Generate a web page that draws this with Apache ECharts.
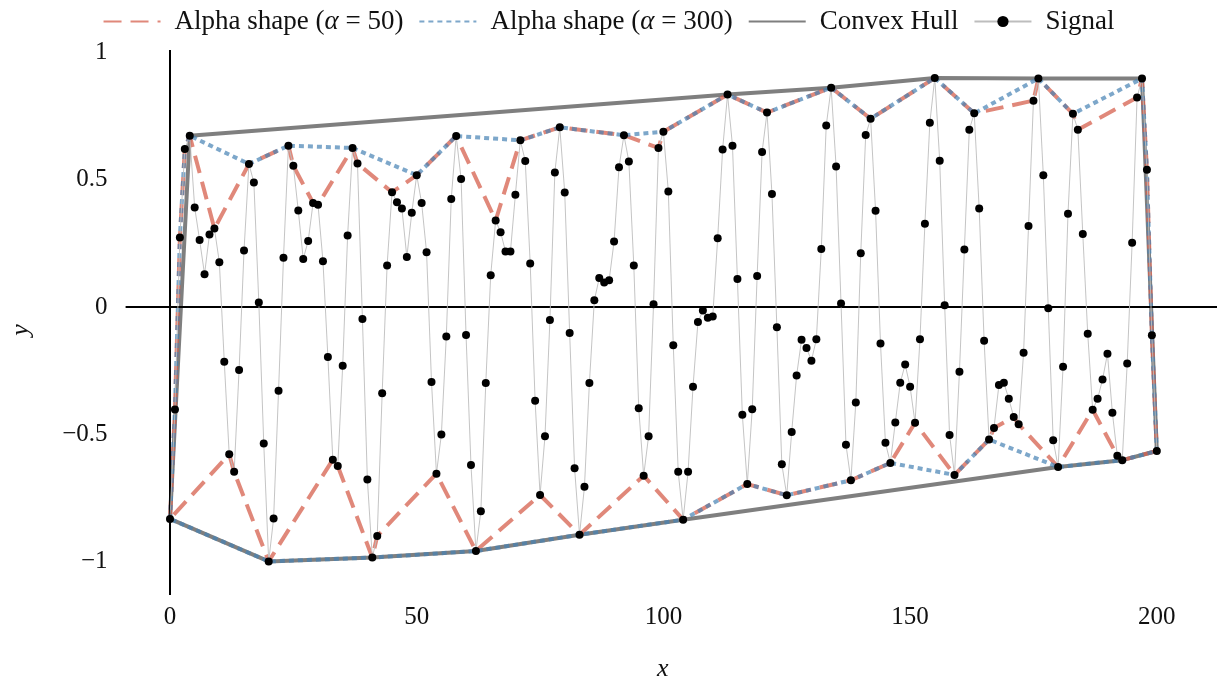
<!DOCTYPE html>
<html>
<head>
<meta charset="utf-8">
<script src="https://cdn.jsdelivr.net/npm/echarts@6/dist/echarts.min.js"></script>
<style>
html,body{margin:0;padding:0;background:#fff;}
#chart{width:1217px;height:682px;}
</style>
</head>
<body>
<div id="chart"></div>
<script>
// Signal values, sampled at x = 0,1,...,200
const signalY = [
-0.833,-0.403,0.273,0.621,0.673,0.391,0.263,0.129,0.285,0.308,
0.176,-0.215,-0.579,-0.648,-0.248,0.222,0.562,0.489,0.018,-0.537,
-1.0,-0.831,-0.329,0.193,0.634,0.555,0.379,0.189,0.259,0.409,
0.402,0.18,-0.197,-0.6,-0.625,-0.231,0.281,0.625,0.564,-0.047,
-0.678,-0.985,-0.9,-0.339,0.163,0.451,0.412,0.387,0.196,0.37,
0.518,0.409,0.215,-0.295,-0.655,-0.501,-0.116,0.424,0.672,0.503,
-0.11,-0.621,-0.959,-0.803,-0.299,0.125,0.34,0.294,0.218,0.218,
0.441,0.655,0.574,0.171,-0.369,-0.739,-0.508,-0.051,0.529,0.706,
0.45,-0.102,-0.634,-0.895,-0.707,-0.299,0.026,0.114,0.096,0.105,
0.257,0.549,0.675,0.572,0.163,-0.398,-0.663,-0.508,0.011,0.625,
0.689,0.454,-0.15,-0.648,-0.836,-0.648,-0.314,-0.059,-0.014,-0.042,
-0.037,0.27,0.619,0.835,0.634,0.11,-0.424,-0.696,-0.402,0.122,
0.609,0.764,0.444,-0.08,-0.618,-0.74,-0.491,-0.269,-0.129,-0.161,
-0.211,-0.127,0.228,0.713,0.862,0.552,0.014,-0.541,-0.681,-0.375,
0.211,0.676,0.74,0.378,-0.144,-0.534,-0.613,-0.454,-0.298,-0.226,
-0.314,-0.455,-0.127,0.327,0.724,0.9,0.575,0.007,-0.503,-0.66,
-0.255,0.226,0.697,0.761,0.387,-0.133,-0.521,-0.476,-0.307,-0.298,
-0.361,-0.432,-0.461,-0.18,0.318,0.811,0.898,0.518,-0.005,-0.524,
-0.629,-0.235,0.366,0.759,0.697,0.287,-0.105,-0.404,-0.361,-0.285,
-0.184,-0.416,-0.585,-0.602,-0.222,0.252,0.823,0.898,0.539,-0.111,
-0.566
];

// Boundary paths, as indices into the signal samples
const hullIdx = [0,4,113,134,155,176,197,200,193,180,104,83,62,41,20,0];
const alpha300Idx = [0,1,2,3,4,16,24,37,50,58,71,79,92,100,113,121,134,142,155,163,176,183,197,198,199,200,193,180,166,159,146,138,125,117,104,83,62,41,20,0];
const alpha50Idx = [0,1,2,3,4,9,16,24,25,29,30,37,38,45,50,58,66,71,79,92,99,100,113,121,134,142,155,163,175,176,183,184,196,197,198,199,200,193,192,187,180,172,171,167,166,159,151,146,138,125,117,104,96,83,75,62,54,42,41,34,33,20,13,12,0];

const xTicks = [0,50,100,150,200];
const yTicks = [-1,-0.5,0,0.5,1];

const seriesNames = ['Alpha shape (α = 50)','Alpha shape (α = 300)','Convex Hull','Signal'];

const signalData = signalY.map((y,i)=>[i,y]);
const pathData = idx => idx.map(i=>[i, signalY[i]]);

const FONT = 'Liberation Serif';
const chart = echarts.init(document.getElementById('chart'), null, {renderer:'canvas'});

const legendFmt = name => {
  const m = name.match(/^(.*\()α(.*)$/);
  if (m) return m[1] + '{i|α}' + m[2];
  return name;
};

chart.setOption({
  animation:false,
  backgroundColor:'#ffffff',
  legend:{
    top:3, left:'center',
    itemWidth:57, itemHeight:14, itemGap:15,
    data:[
      {name:seriesNames[0], itemStyle:{opacity:0}},
      {name:seriesNames[1], itemStyle:{opacity:0}},
      {name:seriesNames[2], itemStyle:{opacity:0}},
      {name:seriesNames[3]}
    ],
    formatter:legendFmt,
    textStyle:{fontFamily:FONT, fontSize:27, color:'#111', padding:[0,0,0,9],
      rich:{i:{fontFamily:FONT, fontStyle:'italic', fontSize:27, color:'#111'}}}
  },
  grid:{left:125.6, right:0, top:50, bottom:87, containLabel:false},
  xAxis:{
    type:'value', min:-9, max:212.2,
    axisLine:{show:false}, axisTick:{show:false}, splitLine:{show:false},
    axisLabel:{customValues:xTicks, margin:10, fontFamily:FONT, fontSize:25, color:'#111'}
  },
  yAxis:{
    type:'value', min:-1.132, max:1.01,
    axisLine:{show:false}, axisTick:{show:false}, splitLine:{show:false},
    axisLabel:{customValues:yTicks, margin:18, fontFamily:FONT, fontSize:25, color:'#111',
      formatter:v=> v<0 ? '\u2212'+String(Math.abs(v)) : String(v)}
  },
  graphic:[
    {type:'text', left:657, top:656, style:{text:'x', font:'italic 26px "Liberation Serif"', fill:'#111'}},
    {type:'text', x:8, y:330, rotation:Math.PI/2, style:{text:'y', font:'italic 26px "Liberation Serif"', fill:'#111', align:'center', verticalAlign:'top'}}
  ],
  series:[
    {
      name:'zero', type:'line', data:[], z:1, silent:true,
      markLine:{silent:true, symbol:'none', label:{show:false},
        lineStyle:{color:'#000', width:2, type:'solid'},
        data:[{yAxis:0},{xAxis:0}]}
    },
    {
      name:seriesNames[2], type:'line', z:2, data:pathData(hullIdx),
      symbol:'none', showSymbol:false,
      lineStyle:{color:'#7f7f7f', width:4},
      itemStyle:{color:'#7f7f7f'}
    },
    {
      name:seriesNames[0], type:'line', z:3, data:pathData(alpha50Idx),
      symbol:'none', showSymbol:false,
      lineStyle:{color:'#d6604d', width:4, opacity:0.75, type:[18,9]},
      itemStyle:{color:'#d6604d', opacity:0.75}
    },
    {
      name:seriesNames[1], type:'line', z:4, data:pathData(alpha300Idx),
      symbol:'none', showSymbol:false,
      lineStyle:{color:'#4682b4', width:4, opacity:0.7, type:[5,4]},
      itemStyle:{color:'#4682b4', opacity:0.7}
    },
    {
      name:seriesNames[3], type:'line', z:5, data:signalData,
      symbol:'circle', symbolSize:8, showSymbol:true,
      lineStyle:{color:'#bdbdbd', width:0.9},
      itemStyle:{color:'#000'}
    }
  ]
});
</script>
</body>
</html>
